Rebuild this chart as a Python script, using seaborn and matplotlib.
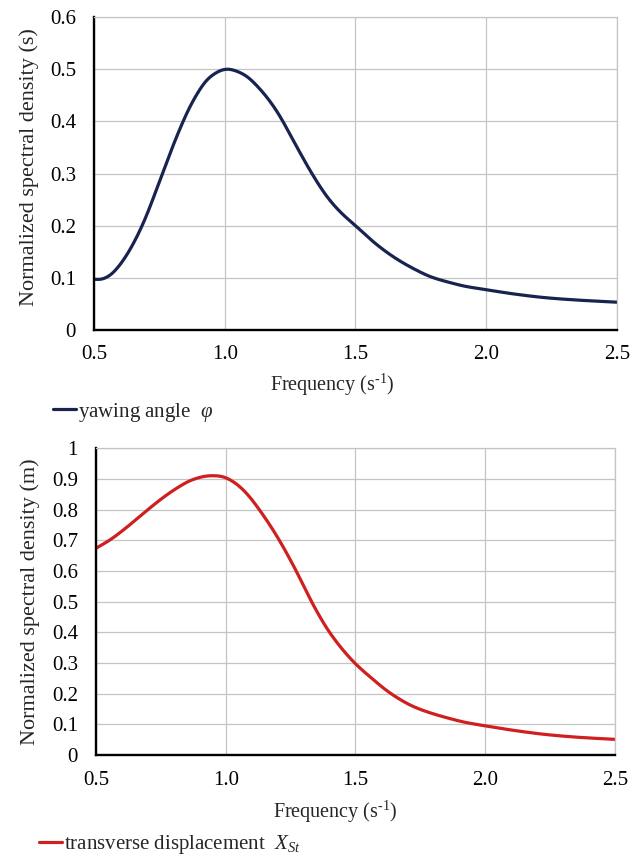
import numpy as np
import pandas as pd
import seaborn as sns
import matplotlib
matplotlib.use("Agg")
import matplotlib.pyplot as plt
from matplotlib.ticker import FuncFormatter, MultipleLocator

# ---- data ----
yaw_freq = [0.50, 0.523, 0.561, 0.60, 0.638, 0.689, 0.753, 0.816, 0.88, 0.944, 1.008,
            1.071, 1.135, 1.199, 1.269, 1.333, 1.396, 1.45, 1.5, 1.575, 1.651, 1.727,
            1.791, 1.855, 1.919, 2.0, 2.11, 2.24, 2.368, 2.5]
yaw_psd = [0.097, 0.096, 0.104, 0.125, 0.154, 0.205, 0.288, 0.371, 0.441, 0.486, 0.501,
           0.491, 0.462, 0.420, 0.357, 0.300, 0.252, 0.222, 0.200, 0.166, 0.138, 0.116,
           0.101, 0.0915, 0.0835, 0.077, 0.0685, 0.061, 0.0565, 0.053]

tr_freq = [0.50, 0.554, 0.618, 0.683, 0.747, 0.811, 0.875, 0.94, 0.978, 1.03, 1.081,
           1.132, 1.171, 1.209, 1.273, 1.331, 1.402, 1.5, 1.556, 1.633, 1.725, 1.789,
           1.854, 1.919, 2.0, 2.112, 2.242, 2.371, 2.5]
tr_psd = [0.674, 0.701, 0.742, 0.788, 0.832, 0.870, 0.899, 0.911, 0.910, 0.891, 0.853,
          0.797, 0.749, 0.697, 0.598, 0.499, 0.397, 0.297, 0.255, 0.202, 0.157, 0.137,
          0.121, 0.107, 0.095, 0.080, 0.066, 0.057, 0.051]

x_ticks = [0.5, 1.0, 1.5, 2.0, 2.5]
yaw_label = r"yawing angle  $\varphi$"
tr_label = r"transverse displacement  $X_{St}$"

sns.set_theme(style="white")
plt.rcParams['font.family'] = ['Liberation Serif', 'DejaVu Serif']
plt.rcParams['mathtext.fontset'] = 'custom'
plt.rcParams['mathtext.rm'] = 'Liberation Serif'
plt.rcParams['mathtext.it'] = 'Liberation Serif:italic'

fig = plt.figure(figsize=(6.44, 8.60), dpi=100)
ax1 = fig.add_axes([0.146, 0.6165, 0.812, 0.3635])
ax2 = fig.add_axes([0.149, 0.1221, 0.806, 0.3566])


def pchip(xs, ys, n=800):
    xs = np.asarray(xs, float); ys = np.asarray(ys, float)
    h = np.diff(xs); d = np.diff(ys) / h
    m = np.zeros_like(ys)
    for k in range(1, len(xs) - 1):
        if d[k - 1] * d[k] > 0:
            w1 = 2 * h[k] + h[k - 1]; w2 = h[k] + 2 * h[k - 1]
            m[k] = (w1 + w2) / (w1 / d[k - 1] + w2 / d[k])
    m[0] = d[0]; m[-1] = d[-1]
    xf = np.linspace(xs[0], xs[-1], n)
    idx = np.clip(np.searchsorted(xs, xf) - 1, 0, len(xs) - 2)
    t = (xf - xs[idx]) / h[idx]
    h00 = 2 * t**3 - 3 * t**2 + 1; h10 = t**3 - 2 * t**2 + t
    h01 = -2 * t**3 + 3 * t**2; h11 = t**3 - t**2
    yf = h00 * ys[idx] + h10 * h[idx] * m[idx] + h01 * ys[idx + 1] + h11 * h[idx] * m[idx + 1]
    # light gaussian smoothing to remove reading jitter
    dx = xf[1] - xf[0]
    sig = 0.015 / dx
    kk = np.arange(-int(4 * sig), int(4 * sig) + 1)
    w = np.exp(-0.5 * (kk / sig) ** 2); w /= w.sum()
    pad = len(kk) // 2
    yp = np.concatenate([2 * yf[0] - yf[pad:0:-1], yf, 2 * yf[-1] - yf[-2:-pad - 2:-1]])
    yf = np.convolve(yp, w, mode='valid')
    return xf, yf


def style(ax, ymax, ylabel, xlab_y, xlab_x, ylab_x, ylab_y, xpad):
    ax.set_xlim(0.5, 2.5)
    ax.set_ylim(0, ymax)
    ax.set_xticks(x_ticks)
    ax.yaxis.set_major_locator(MultipleLocator(0.1))
    ax.xaxis.set_major_formatter(FuncFormatter(lambda v, p: f"{v:.1f}"))
    ax.yaxis.set_major_formatter(FuncFormatter(
        lambda v, p: "0" if abs(v) < 1e-9 else ("1" if abs(v - 1) < 1e-9 else f"{v:.1f}")))
    ax.grid(True, color='#c4c4c4', linewidth=0.9)
    for s in ['top', 'right']:
        ax.spines[s].set_color('#c4c4c4')
        ax.spines[s].set_linewidth(0.9)
    for s in ['left', 'bottom']:
        ax.spines[s].set_color('black')
        ax.spines[s].set_linewidth(1.7)
    ax.tick_params(axis='both', length=0, labelsize=15, colors='black')
    ax.tick_params(axis='x', pad=xpad)
    ax.tick_params(axis='y', pad=13)
    ax.set_xlabel(r"Frequency (s$^{\text{-1}}$)", fontsize=14.5)
    ax.xaxis.set_label_coords(xlab_x, xlab_y)
    ax.set_ylabel(ylabel, fontsize=16)
    ax.yaxis.set_label_coords(ylab_x, ylab_y)


x1, y1 = pchip(yaw_freq, yaw_psd)
x2, y2 = pchip(tr_freq, tr_psd)
sns.lineplot(x=x1, y=y1, ax=ax1, color='#18244f', linewidth=2.3, label=yaw_label)
sns.lineplot(x=x2, y=y2, ax=ax2, color='#cf1f1f', linewidth=2.3, label=tr_label)

style(ax1, 0.6, "Normalized spectral density (s)", -0.134, 0.455, -0.105, 0.52, 11)
style(ax2, 1.0, "Normalized spectral density (m)", -0.1435, 0.461, -0.108, 0.5, 11.5)

for ax, anchor in [(ax1, (53 / 644, 1 - 412 / 860)), (ax2, (39 / 644, 1 - 845 / 860))]:
    ax.legend(loc='center left', bbox_to_anchor=anchor, bbox_transform=fig.transFigure,
              frameon=False, fontsize=15, handlelength=1.1, handletextpad=0.08,
              borderaxespad=0, borderpad=0)

fig.savefig("out.png", dpi=100)
